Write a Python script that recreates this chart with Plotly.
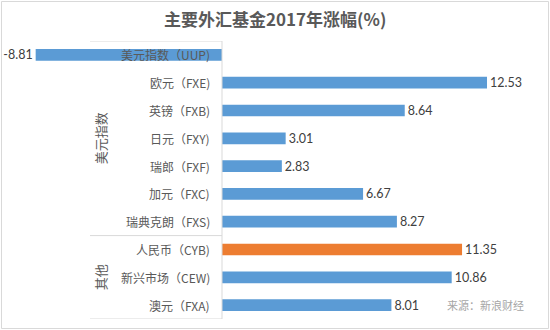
import plotly.graph_objects as go

# Fund names and 2017 returns (%)
funds = ["美元指数（UUP)", "欧元（FXE)", "英镑（FXB)", "日元（FXY)", "瑞郎（FXF)",
         "加元（FXC)", "瑞典克朗（FXS)", "人民币（CYB)", "新兴市场（CEW)", "澳元（FXA)"]
returns = [-8.81, 12.53, 8.64, 3.01, 2.83, 6.67, 8.27, 11.35, 10.86, 8.01]
groups = ["美元指数", "其他"]
group_spans = [(0, 6), (7, 9)]
highlight = "人民币（CYB)"

BLUE = "#5B9BD5"
ORANGE = "#ED7D31"
AXIS = "#D9D9D9"
CJK = "Noto Sans CJK SC"

W, H = 550, 330
M_T, M_B = 41, 11
ZERO_PX = 222
PX_PER_UNIT = 21.15
x_range = [-ZERO_PX / PX_PER_UNIT, (W - ZERO_PX) / PX_PER_UNIT]

colors = [ORANGE if f == highlight else BLUE for f in funds]
idx = list(range(len(funds)))

fig = go.Figure(go.Bar(
    x=returns, y=idx, orientation="h",
    marker=dict(color=colors, line=dict(width=0)),
    text=[f"{v:.2f}" for v in returns], textposition="outside",
    constraintext="none",
    textfont=dict(family="Lato, Open Sans, sans-serif", size=12.5, color="#404040"),
    cliponaxis=False, width=0.42,
))

annotations = []
# category labels to the left of the zero line
for i, f in enumerate(funds):
    annotations.append(dict(x=0, y=i, xref="x", yref="y", text=f, showarrow=False,
                            xanchor="right", yanchor="middle", xshift=-10,
                            font=dict(family=CJK, size=12, color="#595959")))
# group labels (rotated)
for g, (a, b) in zip(groups, group_spans):
    annotations.append(dict(x=100 / W, y=(a + b) / 2, xref="paper", yref="y", text=g,
                            showarrow=False, textangle=-90, xanchor="center",
                            yanchor="middle",
                            font=dict(family=CJK, size=13, color="#595959")))
annotations.append(dict(x=526 / W, y=len(funds) - 1, xref="paper", yref="y",
                        text="来源：新浪财经", showarrow=False, xanchor="right",
                        yanchor="middle",
                        font=dict(family=CJK, size=11, color="#A6A6A6")))
annotations.append(dict(x=0.5, y=1 + 23 / (H - M_T - M_B), xref="paper", yref="paper",
                        text="<b>主要外汇基金2017年涨幅(%)</b>", showarrow=False,
                        xanchor="center", yanchor="middle",
                        font=dict(family=CJK, size=17, color="#595959")))

shapes = []
# multi-level category axis lines
for yb in [-0.5, group_spans[0][1] + 0.5, len(funds) - 0.5]:
    shapes.append(dict(type="line", xref="paper", yref="y", x0=90 / W, x1=ZERO_PX / W,
                       y0=yb, y1=yb, line=dict(color=AXIS, width=1)))
shapes.append(dict(type="line", xref="x", yref="y", x0=0, x1=0, y0=-0.5,
                   y1=len(funds) - 0.5, line=dict(color=AXIS, width=1)))
# outer frame
ph = H - M_T - M_B
shapes.append(dict(type="rect", xref="paper", yref="paper", x0=1.5 / W, x1=548.5 / W,
                   y0=-(M_B - 1.5) / ph, y1=1 + (M_T - 1.5) / ph,
                   line=dict(color=AXIS, width=1)))

fig.update_layout(
    width=W, height=H,
    margin=dict(l=0, r=0, t=M_T, b=M_B, pad=0),
    paper_bgcolor="white", plot_bgcolor="white",
    showlegend=False,
    xaxis=dict(range=x_range, visible=False, fixedrange=True),
    yaxis=dict(range=[len(funds) - 0.5, -0.5], visible=False, fixedrange=True),
    annotations=annotations, shapes=shapes,
)

fig.write_html("out.html")
